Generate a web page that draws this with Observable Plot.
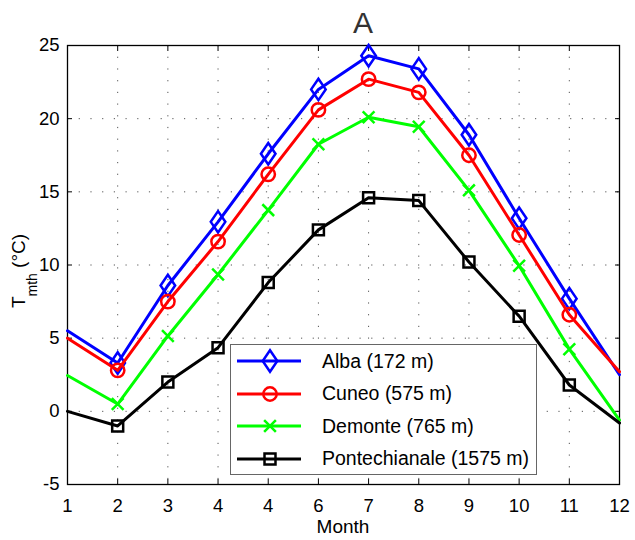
<!DOCTYPE html>
<html><head><meta charset="utf-8">
<script src="https://cdn.jsdelivr.net/npm/d3@7"></script>
<script src="https://cdn.jsdelivr.net/npm/@observablehq/plot@0.6"></script>
<style>
body{margin:0;background:#fff;font-family:"Liberation Sans",Arial,Helvetica,sans-serif;}
#wrap{position:relative;width:635px;height:540px;}
#legend{position:absolute;left:230px;top:344px;width:307px;height:131px;border:1px solid #666;background:#fff;box-sizing:border-box;}
.row{position:absolute;left:0;height:30px;display:flex;align-items:center;font-size:19.5px;color:#000;white-space:nowrap;}
.row svg{margin-left:6px;margin-right:19px;}
</style></head><body><div id="wrap"></div>
<script>
const months = [1,2,3,4,5,6,7,8,9,10,11,12];
const monthLabels = ["1","2","3","4","4","6","7","8","9","10","11","12"];
const yTicks = [-5,0,5,10,15,20,25];
const seriesNames = ["Alba (172 m)","Cuneo (575 m)","Demonte (765 m)","Pontechianale (1575 m)"];
const seriesColors = ["#0000ff","#ff0000","#00ff00","#000000"];
const seriesSymbols = ["diamond","circle","times","square"];
const alba    = [5.5, 3.3, 8.6, 12.95, 17.6, 22.0, 24.3, 23.4, 18.9, 13.2, 7.7, 2.5];
const cuneo   = [5.0, 2.8, 7.5, 11.6, 16.2, 20.6, 22.7, 21.8, 17.5, 12.05, 6.6, 2.7];
const demonte = [2.45, 0.5, 5.15, 9.35, 13.75, 18.25, 20.1, 19.45, 15.1, 9.95, 4.25, -0.6];
const ponte   = [0.0, -1.0, 2.0, 4.35, 8.8, 12.4, 14.6, 14.4, 10.2, 6.5, 1.8, -0.8];
const seriesValues = [alba, cuneo, demonte, ponte];

// MATLAB-like rhombus marker (a bit wider than d3's diamond)
const rhombus = {
  draw(context, size) {
    const h = Math.sqrt(size) * 0.84, w = h * 0.68;
    context.moveTo(0, -h); context.lineTo(w, 0); context.lineTo(0, h); context.lineTo(-w, 0); context.closePath();
  }
};
const symbolR = {diamond: 7.2, circle: 6.7, times: 5.4, square: 6.2};
const symbolObj = {diamond: rhombus, circle: d3.symbolCircle, times: d3.symbolTimes, square: d3.symbolSquare};

const seriesMarks = seriesNames.flatMap((name, si) => {
  const rows = months.map((m, i) => ({month: m, value: seriesValues[si][i]}));
  const markerRows = rows.filter(d => d.month > 1 && d.month < 12);
  return [
    Plot.line(rows, {x: "month", y: "value", stroke: seriesColors[si], strokeWidth: 3}),
    Plot.dot(markerRows, {x: "month", y: "value", symbol: symbolObj[seriesSymbols[si]], r: symbolR[seriesSymbols[si]],
      stroke: seriesColors[si], fill: "none", strokeWidth: 2.5})
  ];
});

const labelFmt = d => monthLabels[months.indexOf(d)];

const chart = Plot.plot({
  width: 635, height: 540,
  marginLeft: 67, marginRight: 16, marginTop: 45, marginBottom: 56,
  x: {domain: [1, 12], label: null},
  y: {domain: [-5, 25], label: null},
  style: {fontFamily: '"Liberation Sans", Arial, sans-serif', fontSize: "18.5px", background: "white", color: "#000", overflow: "visible"},
  marks: [
    Plot.gridX(months, {stroke: "#555", strokeOpacity: 1, strokeDasharray: "1.2,10.5"}),
    Plot.gridY(yTicks, {stroke: "#555", strokeOpacity: 1, strokeDasharray: "1.2,10.5"}),
    Plot.axisX(months, {anchor: "bottom", tickSize: 0, tickPadding: 14, tickFormat: labelFmt, fontSize: 18.5}),
    Plot.axisX(months, {anchor: "bottom", tickSize: -5, tickFormat: () => "", strokeWidth: 1}),
    Plot.axisX(months, {anchor: "top", tickSize: -5, tickFormat: () => "", strokeWidth: 1}),
    Plot.axisY(yTicks, {anchor: "left", tickSize: 0, tickPadding: 8, fontSize: 18.5, tickFormat: d => String(d)}),
    Plot.axisY(yTicks, {anchor: "left", tickSize: -5, tickFormat: () => "", strokeWidth: 1}),
    Plot.axisY(yTicks, {anchor: "right", tickSize: -5, tickFormat: () => "", strokeWidth: 1}),
    Plot.frame({stroke: "#000", strokeWidth: 1.3}),
    ...seriesMarks
  ]
});

const wrap = document.getElementById("wrap");
wrap.appendChild(chart);

const svg = d3.select(chart);
svg.append("text").attr("x", 363).attr("y", 33).attr("text-anchor", "middle")
  .attr("font-size", 30).attr("fill", "#333").text("A");
svg.append("text").attr("x", 343).attr("y", 533).attr("text-anchor", "middle")
  .attr("font-size", 19).attr("fill", "#000").text("Month");
const yl = svg.append("text").attr("transform", "translate(25,271) rotate(-90)")
  .attr("text-anchor", "middle").attr("font-size", 19).attr("fill", "#000");
yl.append("tspan").text("T");
yl.append("tspan").attr("font-size", 14).attr("dy", 12).text("mth");
yl.append("tspan").attr("dy", -12).text(" (°C)");

// legend
const legend = document.createElement("div");
legend.id = "legend";
wrap.appendChild(legend);
seriesNames.forEach((name, si) => {
  const row = document.createElement("div");
  row.className = "row";
  row.style.top = (1 + si * 32.5) + "px";
  const sw = d3.create("svg").attr("width", 66).attr("height", 30);
  sw.append("line").attr("x1", 0).attr("x2", 64).attr("y1", 15).attr("y2", 15)
    .attr("stroke", seriesColors[si]).attr("stroke-width", 3);
  const r = symbolR[seriesSymbols[si]];
  sw.append("path").attr("transform", "translate(33,15)")
    .attr("d", d3.symbol(symbolObj[seriesSymbols[si]], Math.PI * r * r)())
    .attr("fill", "none").attr("stroke", seriesColors[si]).attr("stroke-width", 2.5);
  row.appendChild(sw.node());
  const t = document.createElement("span");
  t.textContent = name;
  row.appendChild(t);
  legend.appendChild(row);
});
</script>
</body></html>
